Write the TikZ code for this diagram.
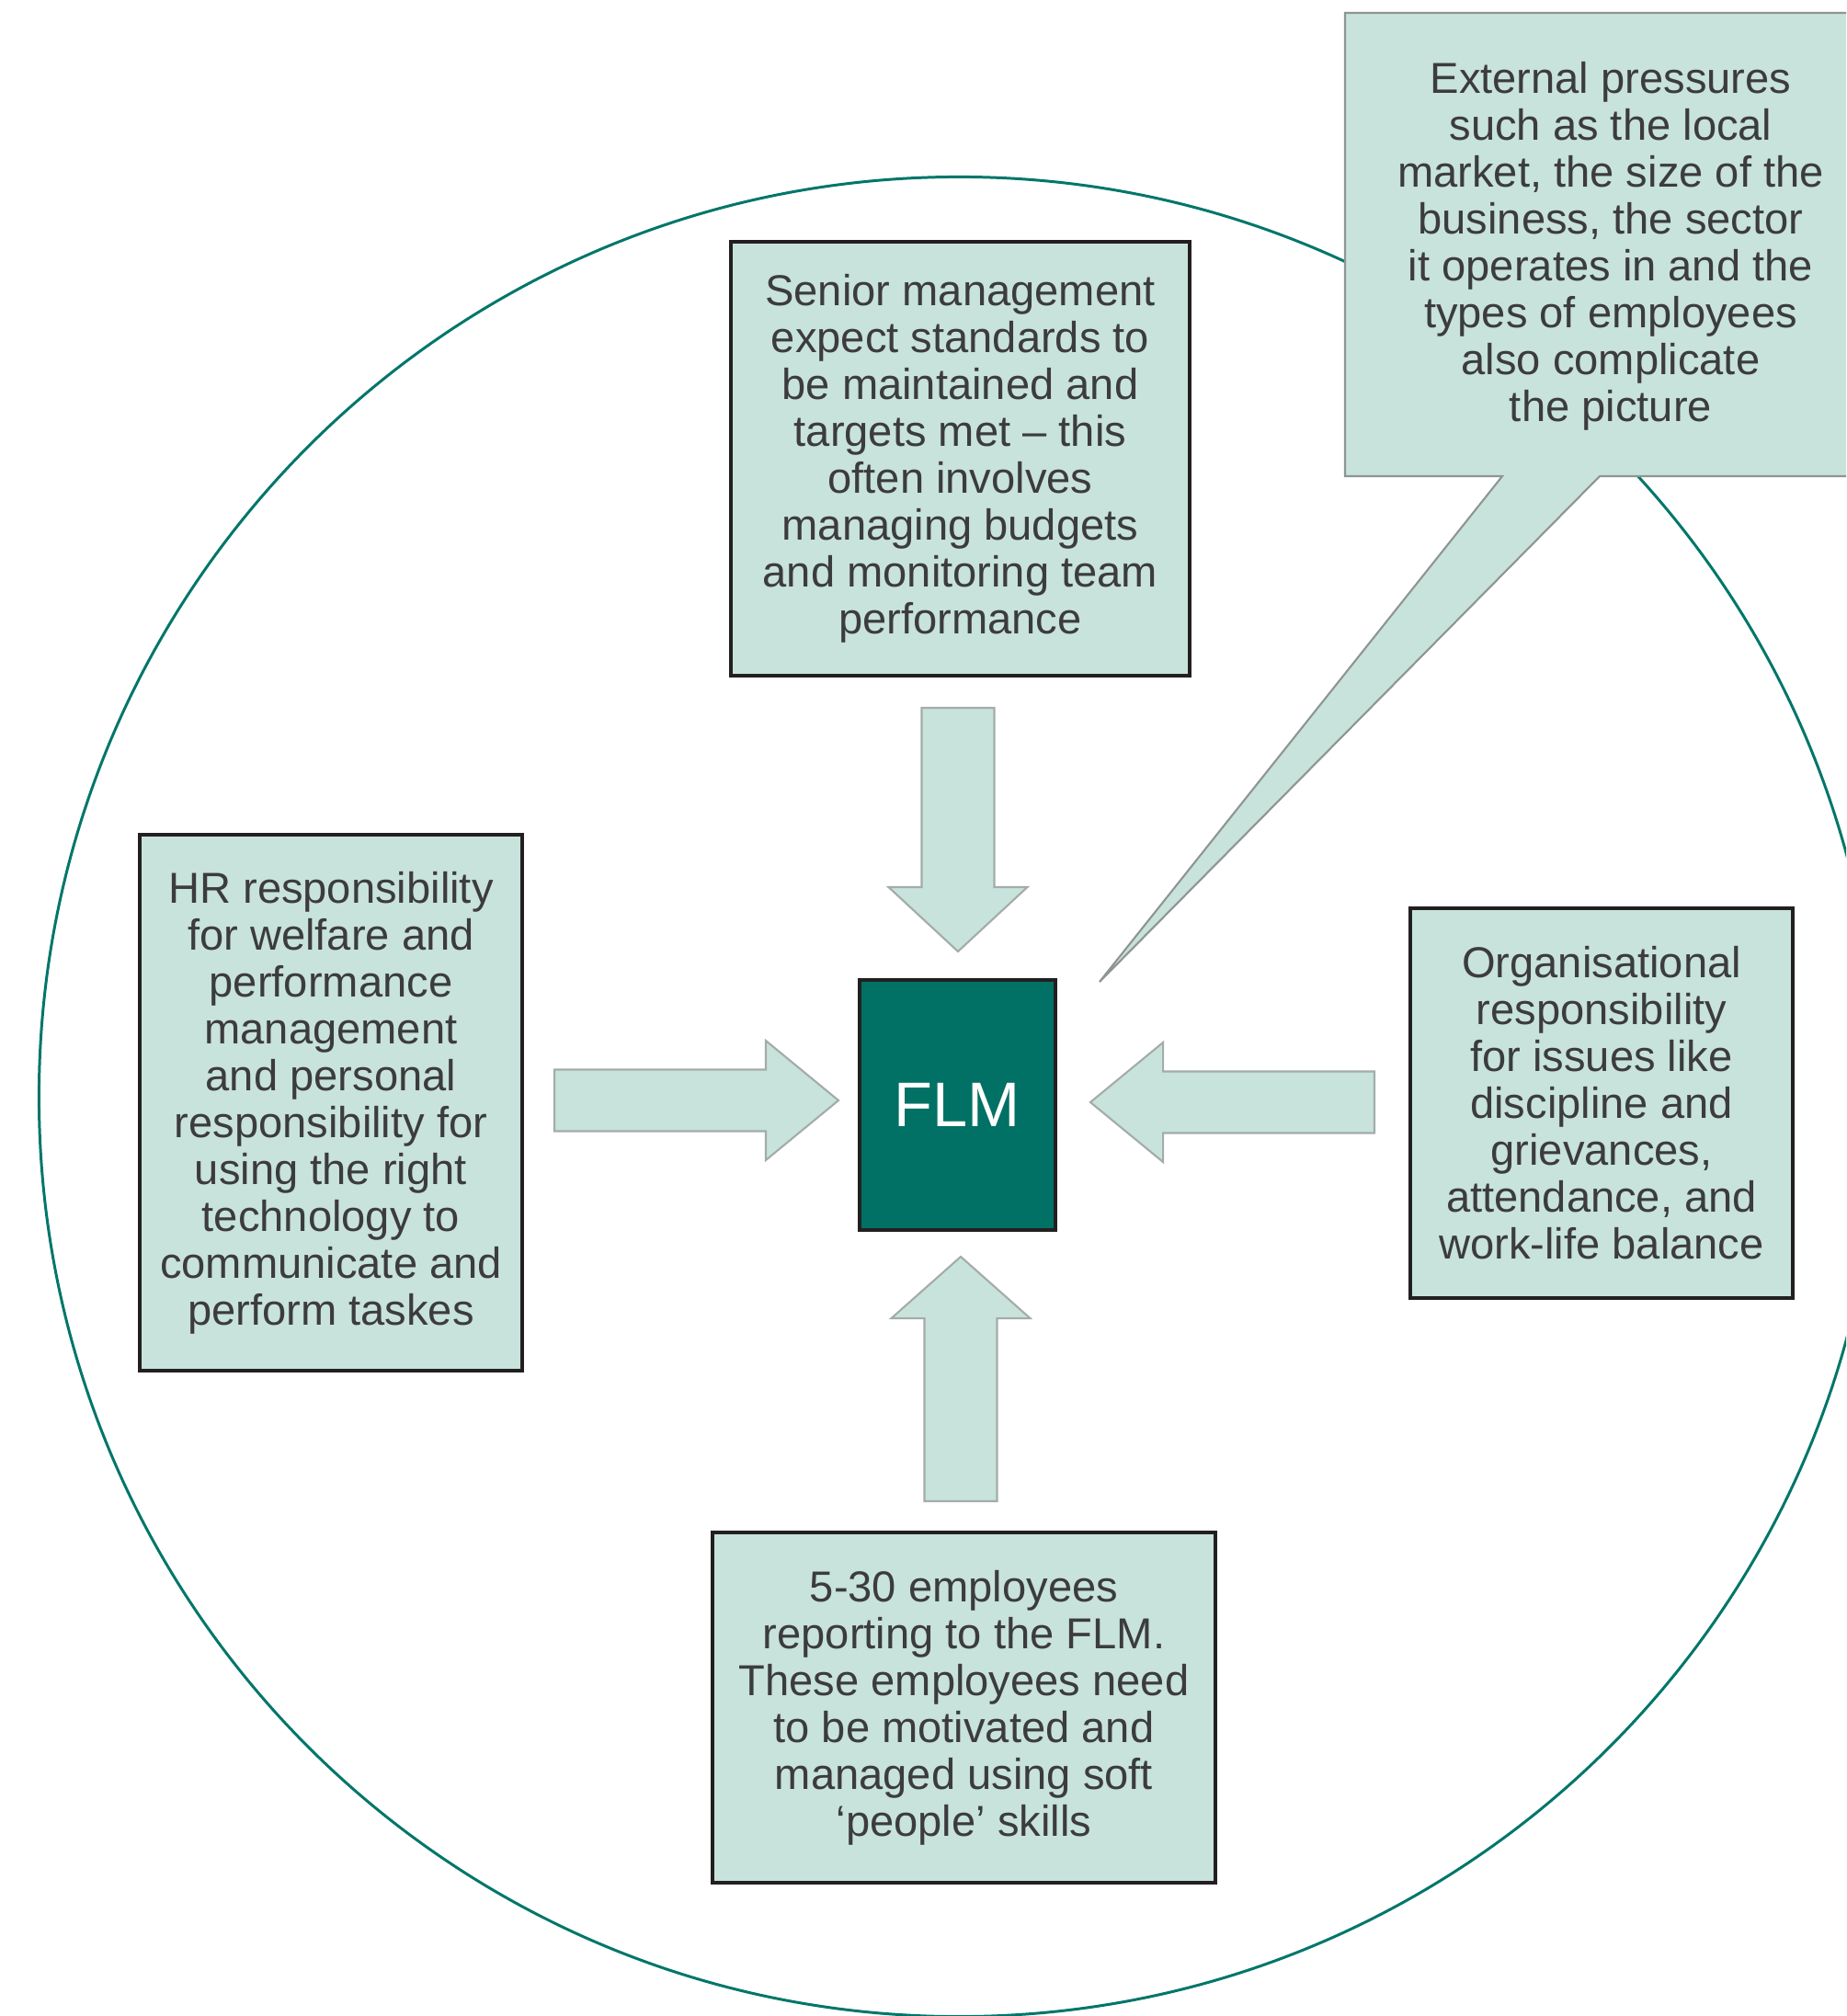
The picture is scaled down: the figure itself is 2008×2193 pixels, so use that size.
\documentclass[tikz,border=0pt]{standalone}
\usepackage{fontspec}
\setmainfont{Liberation Sans}
\usetikzlibrary{calc}
\usepackage{xcolor}

\definecolor{boxfill}{HTML}{C8E2DC}
\definecolor{flmteal}{HTML}{007164}
\definecolor{ringteal}{HTML}{00766A}
\definecolor{boxline}{HTML}{231F20}
\definecolor{arrowline}{HTML}{A3ACA9}
\definecolor{calloutline}{HTML}{8E9592}
\definecolor{bodytext}{HTML}{3C3C3C}

\tikzset{
  infobox/.style={draw=boxline, line width=1.1pt, fill=boxfill, text=bodytext,
    align=center, inner sep=0pt, font=\fontsize{13.4}{14.5}\selectfont},
  flmbox/.style={draw=boxline, line width=1.1pt, fill=flmteal, text=white,
    inner sep=0pt, font=\fontsize{19.5}{22}\selectfont},
  arrowbody/.style={draw=arrowline, line width=0.6pt, fill=boxfill},
  callout/.style={draw=calloutline, line width=0.6pt, fill=boxfill},
}

% block arrow: tail, tip, shaft half width, head half width, head length
\newcommand{\blockarrow}[5]{%
  \coordinate (hb) at ($(#2)!#5!(#1)$);
  \filldraw[arrowbody] ($(#1)!#3!90:(#2)$) -- ($(hb)!#3!90:(#2)$) -- ($(hb)!#4!90:(#2)$)
    -- (#2) -- ($(hb)!#4!-90:(#2)$) -- ($(hb)!#3!-90:(#2)$) -- ($(#1)!#3!-90:(#2)$) -- cycle;}

\begin{document}
\begin{tikzpicture}[x=0.01cm, y=-0.01cm]
		\useasboundingbox (0,0) rectangle (2008,2193);
		\clip (0,0) rectangle (2008,2193);

		% Outer ring
		\draw[ringteal, line width=0.85pt] (1043,1193) circle (10cm);

		% External pressures callout
		\coordinate (extTip) at (1196,1068);
		\filldraw[callout] (1463,14) -- (2060,14) -- (2060,518) -- (1740,518) -- (extTip) -- (1634,518) -- (1463,518) -- cycle;
		\node[text=bodytext, align=center, inner sep=0pt, font=\fontsize{13.4}{14.5}\selectfont] (ext) at (1752,268)
			{External pressures\\ such as the local\\ market, the size of the\\ business, the sector\\ it operates in and the\\ types of employees\\ also complicate\\ the picture};

		% Boxes round the FLM
		\node[infobox, minimum width=4.99cm, minimum height=4.72cm] (senior) at (1044.5,499)
			{Senior management\\ expect standards to\\ be maintained and\\ targets met -- this\\ often involves\\ managing budgets\\ and monitoring team\\ performance};
		\node[infobox, minimum width=4.16cm, minimum height=5.83cm] (hr) at (360,1199.5)
			{HR responsibility\\ for welfare and\\ performance\\ management\\ and personal\\ responsibility for\\ using the right\\ technology to\\ communicate and\\ perform taskes};
		\node[infobox, minimum width=4.16cm, minimum height=4.24cm] (org) at (1742,1200)
			{Organisational\\ responsibility\\ for issues like\\ discipline and\\ grievances,\\ attendance, and\\ work-life balance};
		\node[infobox, minimum width=5.47cm, minimum height=3.81cm] (staff) at (1048.5,1857.5)
			{5-30 employees\\ reporting to the FLM.\\ These employees need\\ to be motivated and\\ managed using soft\\ `people' skills};

		% Centre
		\node[flmbox, minimum width=2.13cm, minimum height=2.72cm] (flm) at (1041.5,1202) {FLM};

		% Arrows pointing in
		\coordinate (topTail) at (1042,770);   \coordinate (topTip) at (1042,1035);
		\coordinate (botTail) at (1045,1633);  \coordinate (botTip) at (1045,1367);
		\coordinate (leftTail) at (603,1197);  \coordinate (leftTip) at (912,1197);
		\coordinate (rightTail) at (1495,1199); \coordinate (rightTip) at (1186,1199);
		\blockarrow{topTail}{topTip}{0.395cm}{0.755cm}{0.70cm}
		\blockarrow{botTail}{botTip}{0.395cm}{0.755cm}{0.67cm}
		\blockarrow{leftTail}{leftTip}{0.335cm}{0.65cm}{0.79cm}
		\blockarrow{rightTail}{rightTip}{0.335cm}{0.65cm}{0.79cm}
	\end{tikzpicture}
\end{document}
